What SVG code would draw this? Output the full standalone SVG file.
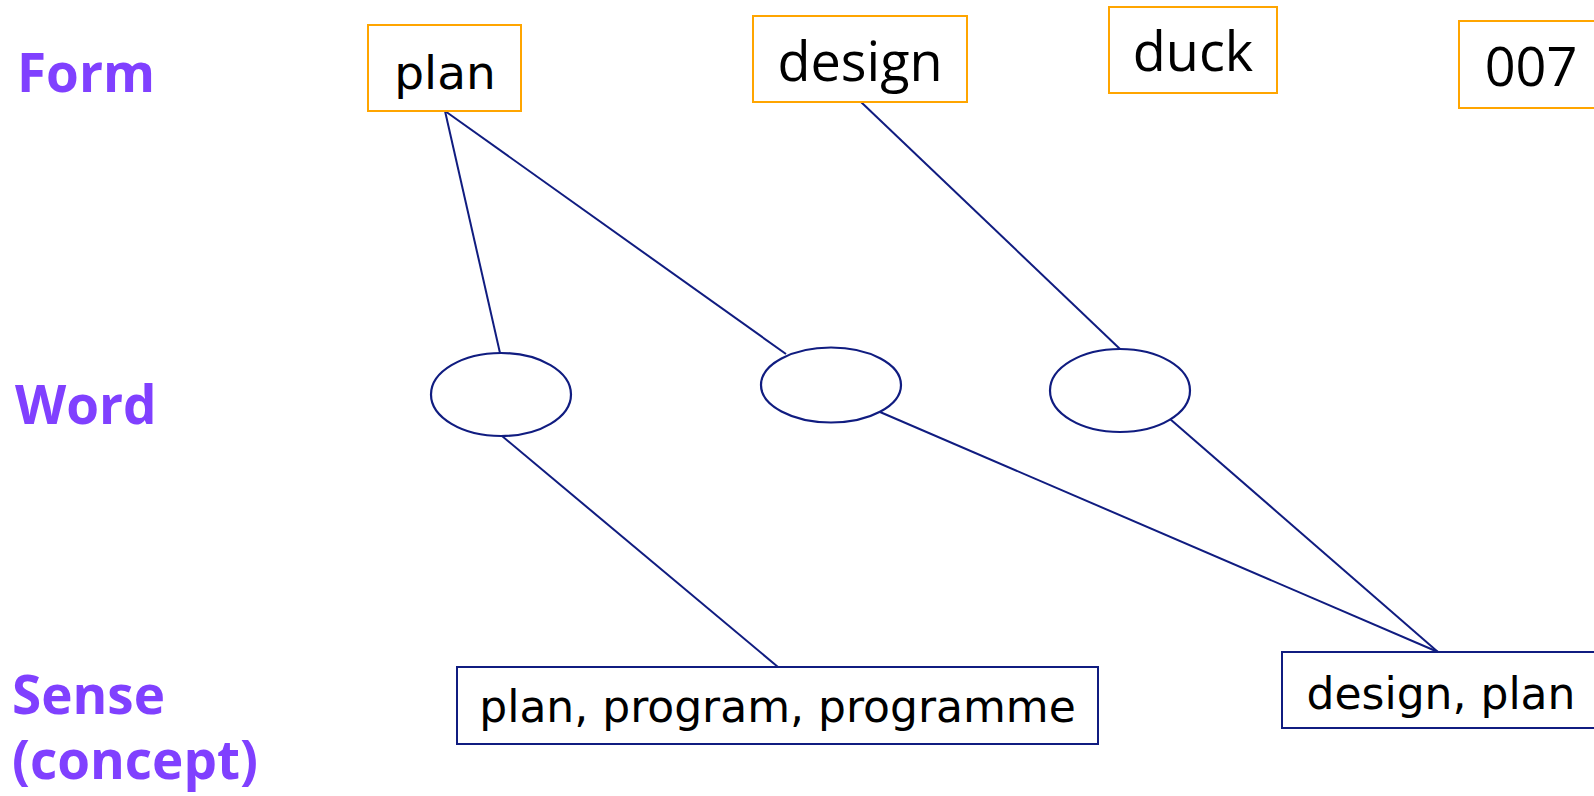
<svg xmlns="http://www.w3.org/2000/svg" width="1594" height="796" viewBox="0 0 1594 796">
<style>
.lbl{font-family:"Open Sans","Noto Sans",sans-serif;font-weight:bold;font-size:53px;fill:#8040FF}
.form{fill:#fff;stroke:#FFA500;stroke-width:2}
.sense{fill:#fff;stroke:#101C80;stroke-width:2}
.word{fill:#fff;stroke:#101C80;stroke-width:2.2}
.t1{font-family:"Open Sans","Noto Sans",sans-serif;font-size:54px;fill:#000;text-anchor:middle}
.t2{font-family:"DejaVu Sans",sans-serif;fill:#000;text-anchor:middle}
.conn line{stroke:#101C80;stroke-width:2}
</style>
<rect width="1594" height="796" fill="#fff"/>
<g id="labels">
<text class="lbl" x="17" y="92">Form</text>
<text class="lbl" x="15" y="424">Word</text>
<text class="lbl" x="12" y="714">Sense</text>
<text class="lbl" x="12" y="779">(concept)</text>
</g>
<g class="conn" id="connectors">
<line x1="445" y1="111" x2="500" y2="353"/>
<line x1="445" y1="111" x2="786" y2="354"/>
<line x1="861" y1="102" x2="1120" y2="349"/>
<line x1="502" y1="436" x2="778" y2="667"/>
<line x1="880" y1="412" x2="1438" y2="652"/>
<line x1="1170" y1="419" x2="1438" y2="652"/>
</g>
<g id="form-plan">
<rect class="form" x="368" y="25" width="153" height="86"/>
<text class="t2" x="445" y="89" font-size="47">plan</text>
</g>
<g id="form-design">
<rect class="form" x="753" y="16" width="214" height="86"/>
<text class="t1" x="860" y="81">design</text>
</g>
<g id="form-duck">
<rect class="form" x="1109" y="7" width="168" height="86"/>
<text class="t1" x="1193" y="71">duck</text>
</g>
<g id="form-007">
<rect class="form" x="1459" y="21" width="140" height="87"/>
<text class="t1" x="1531" y="86" font-size="56">007</text>
</g>
<g id="word-1"><ellipse class="word" cx="501" cy="394.5" rx="70" ry="41.5"/></g>
<g id="word-2"><ellipse class="word" cx="831" cy="385" rx="70" ry="37.5"/></g>
<g id="word-3"><ellipse class="word" cx="1120" cy="390.5" rx="70" ry="41.5"/></g>
<g id="sense-1">
<rect class="sense" x="457" y="667" width="641" height="77"/>
<text class="t2" x="777.5" y="722" font-size="44">plan, program, programme</text>
</g>
<g id="sense-2">
<rect class="sense" x="1282" y="652" width="320" height="76"/>
<text class="t2" x="1441" y="709" font-size="44">design, plan</text>
</g>
</svg>
